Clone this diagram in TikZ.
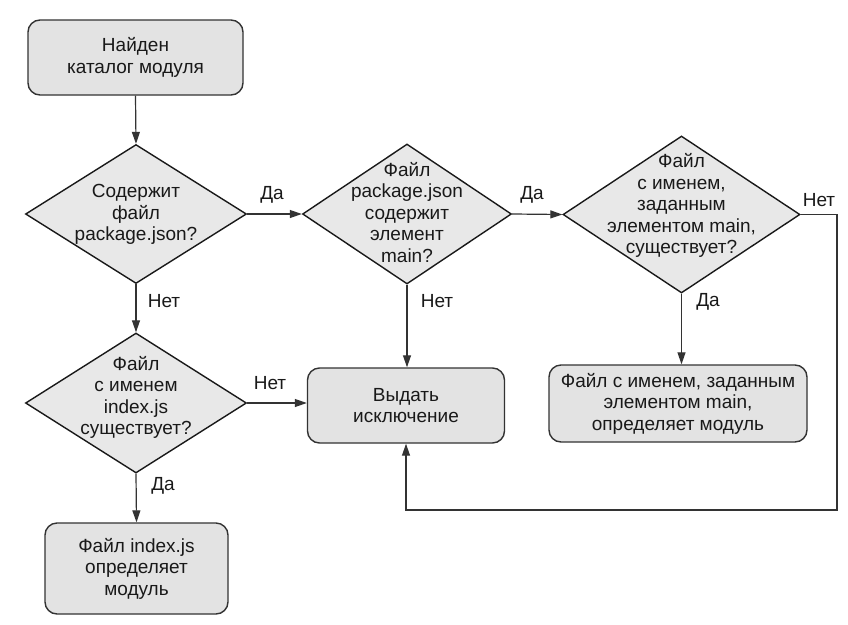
\documentclass[tikz,border=0pt]{standalone}
\usepackage{fontspec}
\setmainfont{Liberation Sans}
\usetikzlibrary{shapes.geometric,arrows.meta}
\newcommand{\dtxt}[2][0pt]{\raisebox{\dimexpr-0.28em+#1\relax}[0pt][0pt]{\makebox[0pt]{\begin{tabular}{@{}c@{}}#2\end{tabular}}}}
\begin{document}
\begin{tikzpicture}[x=1pt,y=-1pt,
  every node/.style={font=\fontsize{19}{21.5}\selectfont, text=black!90},
  box/.style={draw=black!80, line width=1.4pt, fill=black!11, rounded corners=12pt, align=center, inner sep=0pt},
  dia/.style={draw=black!90, line width=1.4pt, fill=black!9, diamond, inner sep=0pt},
  arr/.style={draw=black!80, line width=1.2pt, -{Triangle[length=12pt,width=8pt]}},
  lab/.style={inner sep=0pt}]
\useasboundingbox (0,0) rectangle (848,624);

\node[box, minimum width=215pt, minimum height=75pt] (b1) at (135.5,57.5) {Найден\\каталог модуля};
\node[dia, minimum width=221pt, minimum height=139pt] (d1) at (136,214) {\dtxt{Содержит\\файл\\package.json?}};
\node[dia, minimum width=209pt, minimum height=140pt] (d2) at (407,214) {\dtxt{Файл\\package.json\\содержит\\элемент\\main?}};
\node[dia, minimum width=237pt, minimum height=157pt] (d3) at (681.5,214.5) {\dtxt[9pt]{Файл\\с именем,\\заданным\\элементом main,\\существует?}};
\node[dia, minimum width=221pt, minimum height=140pt] (d4) at (136,403) {\dtxt[6pt]{Файл\\с именем\\index.js\\существует?}};
\node[box, minimum width=197pt, minimum height=75pt] (vyd) at (406,405.5) {Выдать\\исключение};
\node[box, minimum width=258pt, minimum height=77pt] (mb) at (678,403.5) {Файл с именем, заданным\\элементом main,\\определяет модуль};
\node[box, minimum width=183pt, minimum height=91pt] (b5) at (136.5,568.5) {Файл index.js\\определяет\\модуль};

\coordinate (rc) at (837,510);

\draw[arr] (b1.south) -- (d1.north);
\draw[arr] (d1.east) -- (d2.west);
\draw[arr] (d2.east) -- (d3.west);
\draw[arr] (d1.south) -- (d4.north);
\draw[arr] (d2.south) -- (d2.south |- vyd.north);
\draw[arr] (d4.east) -- (d4.east -| vyd.west);
\draw[arr] (d3.south) -- (d3.south |- mb.north);
\draw[arr] (d4.south) -- (b5.north);
\draw[arr] (d3.east) -| (rc) -| (vyd.south);

\node[lab] (l1) at (272,195) {Да};
\node[lab] (l2) at (532,195) {Да};
\node[lab] (l3) at (819,200) {Нет};
\node[lab] (l4) at (164,301) {Нет};
\node[lab] (l5) at (437,301) {Нет};
\node[lab] (l6) at (708,302) {Да};
\node[lab] (l7) at (270,383) {Нет};
\node[lab] (l8) at (163,486) {Да};
\end{tikzpicture}
\end{document}
